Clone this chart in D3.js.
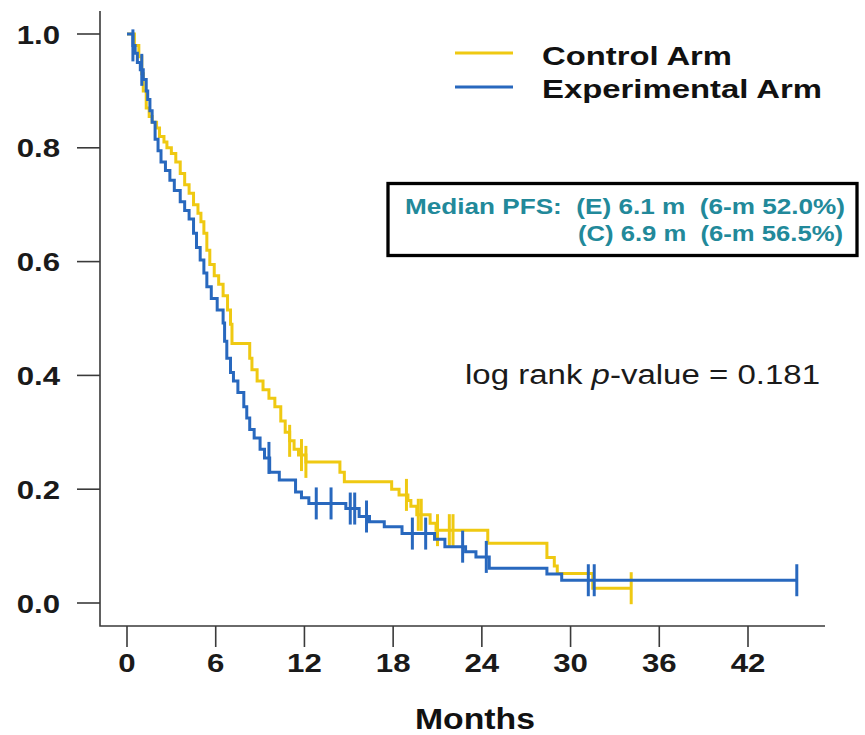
<!DOCTYPE html>
<html>
<head>
<meta charset="utf-8">
<script src="https://cdn.jsdelivr.net/npm/d3@7"></script>
<style>
  html, body { margin: 0; padding: 0; background: #fff; }
  svg { display: block; font-family: "Liberation Sans", Arial, sans-serif; }
</style>
</head>
<body>
<svg id="chart" width="865" height="735"></svg>
<script>
// ---------------- data ----------------
const seriesNames = ["Control Arm", "Experimental Arm"];

// Control arm (yellow) Kaplan-Meier step points
const ctrlTimes = [0, 0.5, 0.8, 1.0, 1.1, 1.3, 1.5, 1.7, 2.0, 2.2, 2.5, 2.7, 3.0, 3.3, 3.6, 3.9, 4.2, 4.5, 4.8, 5.0, 5.2, 5.4, 5.6, 5.9, 6.2, 6.5, 6.8, 7.0, 7.1, 8.3, 8.45, 8.8, 9.2, 9.6, 10.0, 10.4, 10.7, 11.0, 11.3, 11.6, 12.1, 14.4, 14.7, 17.9, 18.4, 19.0, 19.2, 19.6, 20.5, 20.9, 24.4, 28.4, 28.9, 29.1, 31.5];
const ctrlSurv  = [1.0, 0.98, 0.96, 0.93, 0.90, 0.87, 0.855, 0.845, 0.835, 0.82, 0.81, 0.80, 0.79, 0.775, 0.755, 0.735, 0.72, 0.70, 0.685, 0.67, 0.65, 0.62, 0.595, 0.575, 0.56, 0.54, 0.515, 0.49, 0.456, 0.43, 0.41, 0.39, 0.375, 0.36, 0.345, 0.32, 0.30, 0.285, 0.27, 0.26, 0.248, 0.23, 0.213, 0.20, 0.19, 0.18, 0.17, 0.155, 0.14, 0.128, 0.105, 0.08, 0.065, 0.052, 0.026];
const ctrlEnd = 34.1;
const ctrlCensor = [11.0, 11.8, 12.1, 18.9, 19.7, 19.9, 21.0, 21.8, 22.05, 34.1];

// Experimental arm (blue) Kaplan-Meier step points
const expTimes = [0, 0.4, 0.55, 0.7, 0.9, 1.1, 1.3, 1.4, 1.55, 1.7, 1.9, 2.1, 2.3, 2.6, 2.9, 3.2, 3.6, 3.9, 4.2, 4.5, 4.7, 4.95, 5.2, 5.4, 5.7, 6.1, 6.5, 6.6, 6.75, 7.0, 7.2, 7.5, 7.9, 8.1, 8.3, 8.6, 9.0, 9.3, 9.65, 10.3, 11.4, 11.8, 12.3, 14.8, 15.7, 16.4, 17.4, 18.6, 20.8, 21.5, 22.9, 23.6, 24.5, 28.4, 29.4];
const expSurv  = [1.0, 0.98, 0.966, 0.95, 0.937, 0.92, 0.90, 0.885, 0.865, 0.845, 0.815, 0.795, 0.775, 0.76, 0.743, 0.725, 0.705, 0.69, 0.675, 0.65, 0.625, 0.603, 0.58, 0.556, 0.535, 0.515, 0.492, 0.46, 0.43, 0.405, 0.39, 0.37, 0.345, 0.325, 0.305, 0.29, 0.27, 0.255, 0.23, 0.216, 0.195, 0.185, 0.175, 0.166, 0.152, 0.143, 0.134, 0.122, 0.112, 0.099, 0.09, 0.081, 0.061, 0.051, 0.04];
const expEnd = 45.3;
const expCensor = [0.4, 1.0, 9.6, 12.8, 13.8, 15.1, 15.4, 16.2, 19.3, 20.2, 22.7, 24.3, 31.2, 31.6, 45.3];

const xTicks = [0, 6, 12, 18, 24, 30, 36, 42];
const yTicks = [0.0, 0.2, 0.4, 0.6, 0.8, 1.0];
const xTitle = "Months";
const medianLines = ["Median PFS:  (E) 6.1 m  (6-m 52.0%)", "(C) 6.9 m  (6-m 56.5%)"];
const pPrefix = "log rank ", pItalic = "p", pSuffix = "-value = 0.181";

// ---------------- drawing ----------------
const colors = { ctrl: "#EFC912", exp: "#2868BE" };
const svg = d3.select("#chart");

const x = d3.scaleLinear().domain([0, 42]).range([127, 748]);
const y = d3.scaleLinear().domain([0, 1]).range([603, 34]);

// L-shaped frame
const frame = { left: 100, right: 825, top: 11, bottom: 626 };
svg.append("path")
  .attr("d", `M${frame.left},${frame.top}V${frame.bottom}H${frame.right}`)
  .attr("fill", "none").attr("stroke", "#3a3a3a").attr("stroke-width", 1.6);

// y ticks
const yAxisG = svg.append("g");
yTicks.forEach(v => {
  yAxisG.append("line").attr("x1", 77).attr("x2", frame.left)
    .attr("y1", y(v)).attr("y2", y(v)).attr("stroke", "#3a3a3a").attr("stroke-width", 1.6);
  yAxisG.append("text")
    .attr("transform", `translate(60,${y(v) + 9.5}) scale(1.2,1)`)
    .attr("text-anchor", "end").attr("font-weight", "bold").attr("font-size", 26)
    .attr("fill", "#1a1a1a").text(d3.format(".1f")(v));
});

// x ticks
const xAxisG = svg.append("g");
xTicks.forEach(v => {
  xAxisG.append("line").attr("x1", x(v)).attr("x2", x(v))
    .attr("y1", frame.bottom).attr("y2", 647).attr("stroke", "#3a3a3a").attr("stroke-width", 1.6);
  xAxisG.append("text")
    .attr("transform", `translate(${x(v)},672) scale(1.2,1)`)
    .attr("text-anchor", "middle").attr("font-weight", "bold").attr("font-size", 26)
    .attr("fill", "#1a1a1a").text(v);
});

// x title
svg.append("text").attr("x", 415).attr("y", 729)
  .attr("font-weight", "bold").attr("font-size", 29).attr("fill", "#111")
  .attr("textLength", 120).attr("lengthAdjust", "spacingAndGlyphs").text(xTitle);

// KM curves
function kmPoints(times, surv, end) {
  const pts = times.map((t, i) => [t, surv[i]]);
  pts.push([end, surv[surv.length - 1]]);
  return pts;
}
function survAt(times, surv, t) {
  let s = surv[0];
  for (let i = 0; i < times.length; i++) if (times[i] <= t) s = surv[i];
  return s;
}
const line = d3.line().x(d => x(d[0])).y(d => y(d[1])).curve(d3.curveStepAfter);

const arms = [
  { times: ctrlTimes, surv: ctrlSurv, end: ctrlEnd, censor: ctrlCensor, color: colors.ctrl },
  { times: expTimes, surv: expSurv, end: expEnd, censor: expCensor, color: colors.exp }
];
arms.forEach(a => {
  const g = svg.append("g");
  g.append("path").datum(kmPoints(a.times, a.surv, a.end))
    .attr("d", line).attr("fill", "none").attr("stroke", a.color)
    .attr("stroke-width", 3).attr("stroke-linejoin", "miter");
  g.selectAll("line.c").data(a.censor).enter().append("line")
    .attr("x1", d => x(d)).attr("x2", d => x(d))
    .attr("y1", d => y(survAt(a.times, a.surv, d)) - 16)
    .attr("y2", d => y(survAt(a.times, a.surv, d)) + 16)
    .attr("stroke", a.color).attr("stroke-width", 3);
});

// legend
const legendRows = [
  { name: seriesNames[0], color: colors.ctrl, ly: 53, ty: 65, w: 190 },
  { name: seriesNames[1], color: colors.exp, ly: 87, ty: 98, w: 280 }
];
legendRows.forEach(r => {
  svg.append("line").attr("x1", 455).attr("x2", 513).attr("y1", r.ly).attr("y2", r.ly)
    .attr("stroke", r.color).attr("stroke-width", 3);
  svg.append("text").attr("x", 542).attr("y", r.ty)
    .attr("font-weight", "bold").attr("font-size", 26).attr("fill", "#111")
    .attr("textLength", r.w).attr("lengthAdjust", "spacingAndGlyphs").text(r.name);
});

// median box
svg.append("rect").attr("x", 388).attr("y", 183.5).attr("width", 469).attr("height", 72)
  .attr("fill", "none").attr("stroke", "#000").attr("stroke-width", 3.3);
svg.append("text").attr("x", 405).attr("y", 214)
  .attr("font-weight", "bold").attr("font-size", 22).attr("fill", "#22899A")
  .attr("textLength", 440).attr("lengthAdjust", "spacingAndGlyphs")
  .style("white-space", "pre").text(medianLines[0]);
svg.append("text").attr("x", 578).attr("y", 241)
  .attr("font-weight", "bold").attr("font-size", 22).attr("fill", "#22899A")
  .attr("textLength", 265).attr("lengthAdjust", "spacingAndGlyphs")
  .style("white-space", "pre").text(medianLines[1]);

// p-value
const pt = svg.append("text").attr("x", 465).attr("y", 384)
  .attr("font-size", 27).attr("fill", "#1a1a1a")
  .attr("textLength", 355).attr("lengthAdjust", "spacingAndGlyphs");
pt.append("tspan").text(pPrefix);
pt.append("tspan").attr("font-style", "italic").text(pItalic);
pt.append("tspan").text(pSuffix);
</script>
</body>
</html>
